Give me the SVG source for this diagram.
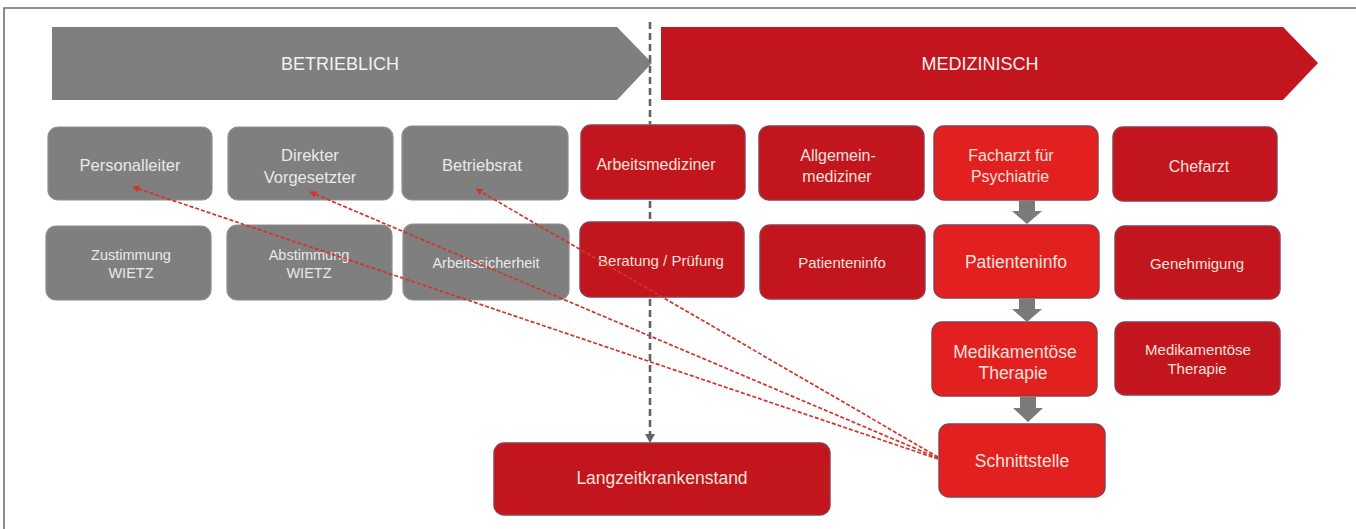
<svg xmlns="http://www.w3.org/2000/svg" width="1356" height="529" viewBox="0 0 1356 529">
<defs>
<style>
text{font-family:"Liberation Sans",Arial,sans-serif;text-anchor:middle;dominant-baseline:central}
.g{fill:#7f7f7f;stroke:#8e8e8e;stroke-width:1.2}
.d{fill:#c3151d;stroke:#8f3a4c;stroke-width:1.4}
.b{fill:#e2201f;stroke:#8f3a4c;stroke-width:1.4}
.tg{fill:#e9e9e9;font-size:16.5px}
.tg2{fill:#e9e9e9;font-size:14.5px}
.td{fill:#f6e2dc;font-size:16px}
.td2{fill:#f6e2dc;font-size:15px}
.tb{fill:#f6e2dc;font-size:17.5px}
.hd{fill:#f2f2f2;font-size:18px}
.red{fill:none;stroke:#d0342b;stroke-width:1.7;stroke-dasharray:4 2;marker-end:url(#ra)}
.blk{fill:#7a7a7a}
.vd{stroke:#636363;stroke-width:2.6;stroke-dasharray:7 4}
</style>
<marker id="ra" viewBox="0 0 10 10" refX="9" refY="5" markerWidth="7" markerHeight="7" markerUnits="userSpaceOnUse" orient="auto">
<path d="M0,0 L10,5 L0,10 z" fill="#d0342b"/>
</marker>
</defs>
<rect width="1356" height="529" fill="#ffffff"/>
<path d="M4,529 V8 H1356" fill="none" stroke="#6e6e6e" stroke-width="1.6"/>

<g id="banner-betrieblich">
<polygon points="52,27 617,27 652,63 617,100 52,100" fill="#7f7f7f"/>
<text class="hd" x="340" y="64">BETRIEBLICH</text>
</g>
<g id="banner-medizinisch">
<polygon points="661,27 1283,27 1318,63 1283,100 661,100" fill="#c3151d"/>
<text class="hd" x="980" y="64">MEDIZINISCH</text>
</g>

<g id="n-personalleiter"><rect class="g" x="48" y="127" width="164" height="73" rx="10"/><text class="tg" x="130" y="165">Personalleiter</text></g>
<g id="n-direkter"><rect class="g" x="228" y="127" width="165" height="73" rx="10"/><text class="tg" x="310" y="155">Direkter</text><text class="tg" x="310" y="177">Vorgesetzter</text></g>
<g id="n-betriebsrat"><rect class="g" x="402" y="126" width="166" height="74" rx="10"/><text class="tg" x="482" y="165">Betriebsrat</text></g>
<g id="n-arbeitsmediziner"><rect class="d" x="581" y="125" width="164" height="74" rx="10"/><text class="td" x="656" y="164" font-size="17.5">Arbeitsmediziner</text></g>
<g id="n-allgemeinmediziner"><rect class="d" x="759" y="126" width="165" height="74" rx="10"/><text class="td" x="838" y="155">Allgemein-</text><text class="td" x="837" y="176">mediziner</text></g>
<g id="n-facharzt"><rect class="b" x="934" y="126" width="164" height="74" rx="10"/><text class="td" x="1011" y="155">Facharzt für</text><text class="td" x="1010" y="176">Psychiatrie</text></g>
<g id="n-chefarzt"><rect class="d" x="1113" y="127" width="164" height="74" rx="10"/><text class="td" x="1199" y="166">Chefarzt</text></g>

<g id="n-zustimmung"><rect class="g" x="46" y="226" width="165" height="74" rx="10"/><text class="tg2" x="131" y="255">Zustimmung</text><text class="tg2" x="131" y="273">WIETZ</text></g>
<g id="n-abstimmung"><rect class="g" x="227" y="225" width="165" height="75" rx="10"/><text class="tg2" x="309" y="255">Abstimmung</text><text class="tg2" x="309" y="273">WIETZ</text></g>
<g id="n-arbeitssicherheit"><rect class="g" x="403" y="224" width="166" height="76" rx="10"/><text class="tg2" x="486" y="263">Arbeitssicherheit</text></g>
<g id="n-beratung"><rect class="d" x="580" y="222" width="164" height="75" rx="10"/><text class="td2" x="661" y="260">Beratung / Prüfung</text></g>
<g id="n-patienteninfo1"><rect class="d" x="760" y="225" width="165" height="74" rx="10"/><text class="td2" x="842" y="262">Patienteninfo</text></g>
<g id="n-patienteninfo2"><rect class="b" x="934" y="225" width="165" height="73" rx="10"/><text class="tb" x="1016" y="262">Patienteninfo</text></g>
<g id="n-genehmigung"><rect class="d" x="1115" y="226" width="165" height="73" rx="10"/><text class="td2" x="1197" y="263">Genehmigung</text></g>

<g id="n-medikamentoese1"><rect class="b" x="932" y="322" width="165" height="74" rx="10"/><text class="tb" x="1015" y="352">Medikamentöse</text><text class="tb" x="1013" y="373">Therapie</text></g>
<g id="n-medikamentoese2"><rect class="d" x="1115" y="322" width="165" height="73" rx="10"/><text class="td2" x="1198" y="349">Medikamentöse</text><text class="td2" x="1197" y="368">Therapie</text></g>

<g id="n-schnittstelle"><rect class="b" x="939" y="424" width="166" height="73" rx="10"/><text class="tb" x="1022" y="461">Schnittstelle</text></g>
<g id="n-langzeitkrankenstand"><rect class="d" x="494" y="443" width="336" height="72" rx="10"/><text class="tb" x="662" y="478">Langzeitkrankenstand</text></g>

<g id="connectors">
<line class="vd" x1="650" y1="22" x2="650" y2="124"/>
<line class="vd" x1="650" y1="201" x2="650" y2="221"/>
<line class="vd" x1="650" y1="299" x2="650" y2="435"/>
<polygon points="645,434 655,434 650,443" fill="#636363"/>
<path class="blk" d="M1019,201 H1035 V211 H1042 L1027,224 L1012,211 H1019 Z"/>
<path class="blk" d="M1019,299 H1035 V309 H1042 L1027,322 L1012,309 H1019 Z"/>
<path class="blk" d="M1020,397 H1036 V408 H1043 L1028,422 L1013,408 H1020 Z"/>
<line class="red" x1="938" y1="459" x2="133" y2="187"/>
<line class="red" x1="938" y1="458" x2="310" y2="192"/>
<line class="red" x1="938" y1="457" x2="476" y2="189"/>
</g>
</svg>
